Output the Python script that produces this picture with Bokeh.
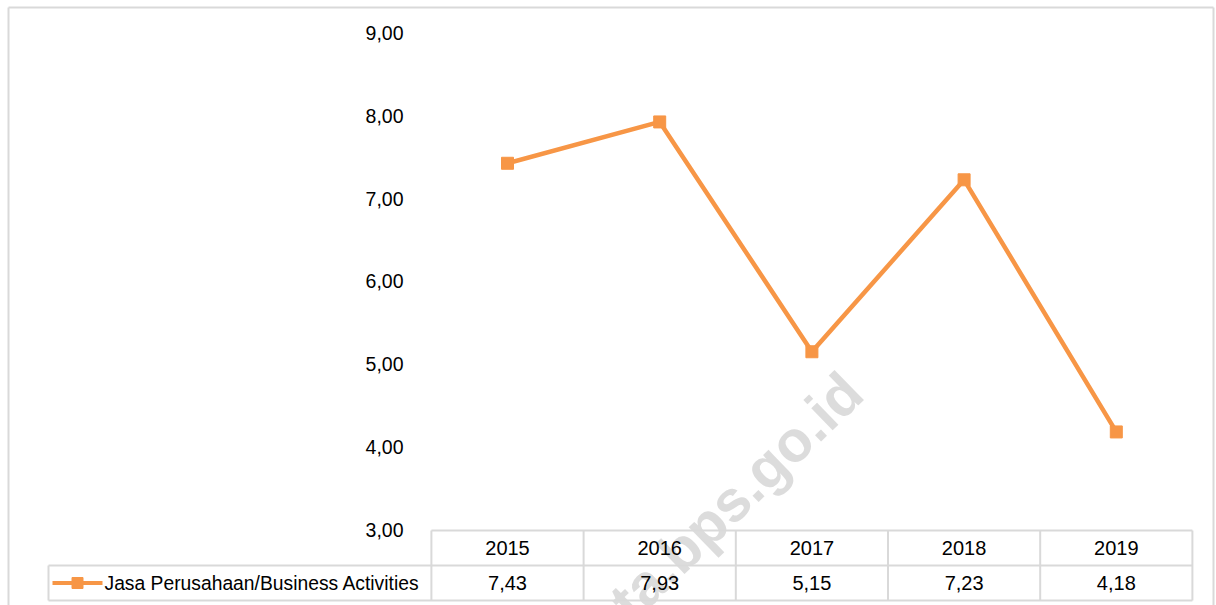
from bokeh.plotting import figure
from bokeh.models import Range1d, ColumnDataSource
from bokeh.core.properties import value
from bokeh.embed import file_html
from bokeh.resources import INLINE

# ---- data ----
years = ["2015", "2016", "2017", "2018", "2019"]
values = [7.43, 7.93, 5.15, 7.23, 4.18]
value_labels = ["7,43", "7,93", "5,15", "7,23", "4,18"]
series_name = "Jasa Perusahaan/Business Activities"
y_ticks = [3, 4, 5, 6, 7, 8, 9]
y_tick_labels = ["3,00", "4,00", "5,00", "6,00", "7,00", "8,00", "9,00"]

ORANGE = "#F79646"
GRID = "#d9d9d9"
FONT = "Liberation Sans"

W, H = 1216, 605
# pixel scale: 152.2 px per category (2015 centred at px 507), 82.67 px per y unit (3 at px 529)
XPX, YPX = 152.2, 82.67
CX, CY = 507, 529


def fx(px):
    return (px - CX) / XPX


def fy(py):
    return 3 + (CY - py) / YPX


x0, x1 = fx(0), fx(W)
y0, y1 = fy(H), fy(0)

p = figure(width=W, height=H, output_backend="svg", toolbar_location=None,
           x_range=Range1d(x0, x1), y_range=Range1d(y0, y1),
           min_border=0, min_border_left=0, min_border_right=0,
           min_border_top=0, min_border_bottom=0)
p.axis.visible = False
p.grid.visible = False
p.outline_line_color = None
p.background_fill_color = "white"
p.border_fill_color = "white"

xs = list(range(len(years)))

# outer chart border (left, top, right)
p.multi_line(xs=[[fx(8), fx(8)], [fx(8), fx(1213)], [fx(1213), fx(1213)]],
             ys=[[y0, fy(7)], [fy(7), fy(7)], [fy(7), y0]],
             line_color=GRID, line_width=2)

# watermark
p.text(x=[fx(852)], y=[fy(382)], text=["kota.bps.go.id"],
       angle=0.77, text_align="right", text_baseline="alphabetic",
       text_font=value("Liberation Sans"), text_font_style="bold",
       text_font_size="58px", text_color="#d6d6d6", text_alpha=0.85)

# data table
r_top, r_mid, r_bot = fy(530), fy(565), fy(600)
leg_left = fx(48)
n = len(years)
p.segment(x0=[-0.5, leg_left, leg_left], y0=[r_top, r_mid, r_bot],
          x1=[n - 0.5] * 3, y1=[r_top, r_mid, r_bot], line_color=GRID, line_width=2)
vx = [i - 0.5 for i in range(n + 1)]
p.segment(x0=vx, y0=[r_top] * len(vx), x1=vx, y1=[r_bot] * len(vx), line_color=GRID, line_width=2)
p.segment(x0=[leg_left], y0=[r_mid], x1=[leg_left], y1=[r_bot], line_color=GRID, line_width=2)

p.text(x=xs, y=[(r_top + r_mid) / 2] * n, text=years, text_align="center",
       text_baseline="middle", text_font=value(FONT), text_font_size="20px", text_color="black")
p.text(x=xs, y=[(r_mid + r_bot) / 2] * n, text=value_labels, text_align="center",
       text_baseline="middle", text_font=value(FONT), text_font_size="20px", text_color="black")

# legend key in table
ly = (r_mid + r_bot) / 2
p.line(x=[fx(52), fx(102)], y=[ly, ly], line_color=ORANGE, line_width=4)
p.scatter(x=[fx(77)], y=[ly], marker="square", size=11, fill_color=ORANGE, line_color=ORANGE)
p.text(x=[fx(104)], y=[ly], text=[series_name], text_align="left", text_baseline="middle",
       text_font=value(FONT), text_font_size="19.3px", text_color="black")

# y tick labels
p.text(x=[fx(403)] * len(y_ticks), y=y_ticks, text=y_tick_labels, text_align="right",
       text_baseline="middle", text_font=value(FONT), text_font_size="19.5px", text_color="black")

# series
src = ColumnDataSource(dict(x=xs, y=values))
p.line("x", "y", source=src, line_color=ORANGE, line_width=4.5)
p.scatter("x", "y", source=src, marker="square", size=12, fill_color=ORANGE, line_color=ORANGE)

open("out.html", "w").write(file_html(p, INLINE))
